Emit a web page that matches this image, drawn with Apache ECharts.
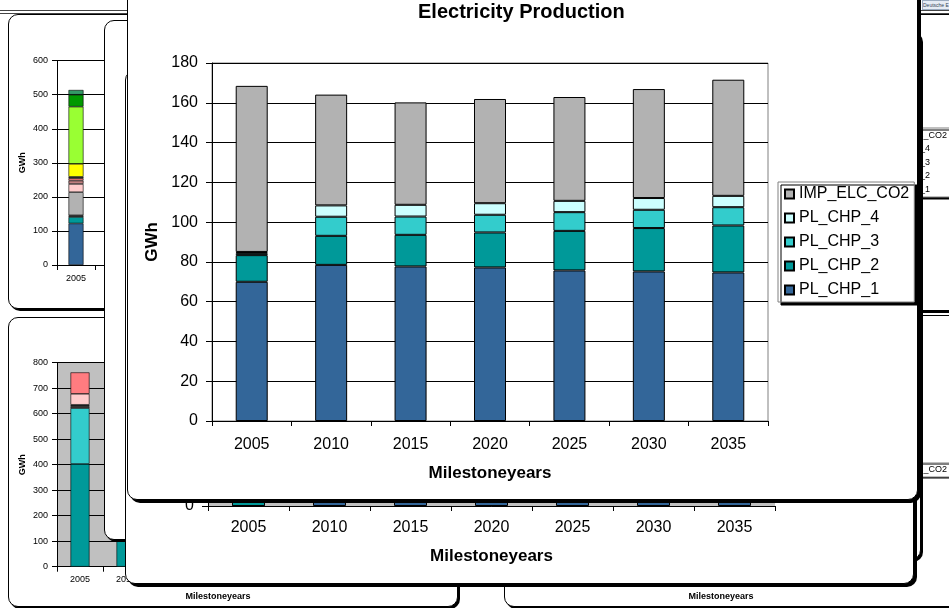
<!DOCTYPE html>
<html><head><meta charset="utf-8">
<script src="https://cdn.jsdelivr.net/npm/echarts@6/dist/echarts.min.js"></script>
<style>
html,body{margin:0;padding:0;background:#fff;}
body{position:relative;width:949px;height:608px;overflow:hidden;font-family:"Liberation Sans",Arial,sans-serif;}
.win{position:absolute;box-sizing:border-box;background:#fff;border:1px solid #000;border-radius:10px;overflow:hidden;}
.chart{position:absolute;width:949px;height:608px;}
.hl{position:absolute;left:0;width:949px;height:1px;background:#444;}
.icon{position:absolute;left:922px;top:0;width:30px;height:8px;background:#e6ecf4;border:1px solid #9aabbf;font-size:5px;line-height:8px;color:#345;overflow:hidden;white-space:nowrap;}
</style></head>
<body>
<div class="hl" style="top:10px"></div>
<div class="hl" style="top:13px"></div>
<div class="icon">Deutsche E</div>
<script>
// ---------- data ----------
const years = ['2005','2010','2015','2020','2025','2030','2035'];
const seriesNames = ['PL_CHP_1','PL_CHP_2','PL_CHP_3','PL_CHP_4','IMP_ELC_CO2'];
const PL_CHP_1    = [70.0, 78.5, 77.7, 77.2, 75.7, 75.2, 74.7];
const PL_CHP_2    = [13.4, 14.6, 15.9, 17.6, 19.9, 21.8, 23.6];
const PL_CHP_3    = [1.0,  9.6,  9.2,  8.9,  9.4,  9.2,  9.2];
const PL_CHP_4    = [0.6,  5.7,  5.9,  5.8,  5.7,  5.9,  5.7];
const IMP_ELC_CO2 = [83.5, 55.7, 51.5, 52.4, 52.2, 54.8, 58.4];
const mainYTicks  = [0, 20, 40, 60, 80, 100, 120, 140, 160, 180];

// background window (behind): only the bottom of the bars is visible
const w2Teal = [65, 0, 0, 0, 0, 0, 0];
const w2Blue = [0, 75, 75, 75, 75, 75, 75];

// top-left background chart, 2005 stack (bottom -> top)
const tlBars2005 = [122, 19, 5, 68, 24, 10, 7, 4, 38, 168, 35, 14];
const tlYTicks = [0, 100, 200, 300, 400, 500, 600];
// bottom-left background chart, 2005 stack (bottom -> top), plus visible 2010 base
const blBars2005 = [403, 219, 5, 4, 4, 43, 84];
const blBars2010 = [400];
const blYTicks = [0, 100, 200, 300, 400, 500, 600, 700, 800];

// ---------- styles ----------
const FONT = '"Liberation Sans", Arial, sans-serif';
const mainColors = ['#336699','#009999','#33CCCC','#CCFFFF','#B2B2B2'];
const tlColors = ['#336699','#009999','#1a1a1a','#B2B2B2','#FFCCCC','#C08080','#FF8080','#333333','#FFFF00','#99FF33','#009900','#339966'];
const blColors = ['#009999','#33CCCC','#996666','#FFFFFF','#333333','#FFCCCC','#FF7C80'];

function mkWin(L, T, W, H, sh) {
  const w = document.createElement('div');
  w.className = 'win';
  w.style.cssText = `left:${L}px;top:${T}px;width:${W}px;height:${H}px;box-shadow:${sh}px ${sh}px 0 #000;`;
  const c = document.createElement('div');
  c.className = 'chart';
  c.style.left = (-(L + 1)) + 'px';
  c.style.top = (-(T + 1)) + 'px';
  w.appendChild(c);
  document.body.appendChild(w);
  return c;
}

function catAxis(o) {
  return Object.assign({
    type: 'category', data: years,
    axisLine: { lineStyle: { color: '#000', width: 1 } },
    axisTick: { show: true, length: 5, lineStyle: { color: '#000' } },
    axisLabel: { color: '#000', fontFamily: FONT, fontSize: 16, margin: 16 },
    nameLocation: 'middle',
    nameTextStyle: { color: '#000', fontFamily: FONT, fontWeight: 'bold', fontSize: 17 }
  }, o);
}
function valAxis(ticks, o) {
  return Object.assign({
    type: 'value', min: ticks[0], max: ticks[ticks.length - 1], interval: ticks[1] - ticks[0],
    axisLine: { show: true, lineStyle: { color: '#000', width: 1 } },
    axisTick: { show: true, length: 6, lineStyle: { color: '#000' } },
    axisLabel: { color: '#000', fontFamily: FONT, fontSize: 16, margin: 14 },
    splitLine: { show: true, lineStyle: { color: '#000', width: 1 } },
    nameLocation: 'middle', nameRotate: 90,
    nameTextStyle: { color: '#000', fontFamily: FONT, fontWeight: 'bold', fontSize: 17 }
  }, o);
}
const barBorder = { borderColor: '#000', borderWidth: 1 };

// ---------- top-left window ----------
(function () {
  const el = mkWin(8, 14, 450, 295, 2);
  const ch = echarts.init(el, null, { renderer: 'canvas' });
  ch.setOption({
    animation: false,
    grid: { left: 57, top: 60.7, width: 266, height: 204.3 },
    xAxis: catAxis({
      axisLabel: { color: '#000', fontFamily: FONT, fontSize: 9, margin: 9 },
      name: 'Milestoneyears', nameGap: 26,
      nameTextStyle: { color: '#000', fontFamily: FONT, fontWeight: 'bold', fontSize: 9 }
    }),
    yAxis: valAxis(tlYTicks, {
      axisTick: { show: true, length: 5, lineStyle: { color: '#000' } },
      axisLabel: { color: '#000', fontFamily: FONT, fontSize: 9, margin: 9 },
      name: 'GWh', nameGap: 30,
      nameTextStyle: { color: '#000', fontFamily: FONT, fontWeight: 'bold', fontSize: 9 }
    }),
    series: tlBars2005.map((v, i) => ({
      type: 'bar', stack: 'tl', barWidth: 15, data: [v],
      itemStyle: { color: tlColors[i], borderColor: '#000', borderWidth: 0.6 }
    }))
  });
})();

// ---------- bottom-left window ----------
(function () {
  const el = mkWin(8, 317, 450, 290, 2);
  const ch = echarts.init(el);
  ch.setOption({
    animation: false,
    grid: { left: 57, top: 362.7, width: 322, height: 204, show: true, backgroundColor: '#C0C0C0', borderWidth: 0 },
    xAxis: catAxis({
      axisLabel: { color: '#000', fontFamily: FONT, fontSize: 9, margin: 8 },
      name: 'Milestoneyears', nameGap: 25,
      nameTextStyle: { color: '#000', fontFamily: FONT, fontWeight: 'bold', fontSize: 9 }
    }),
    yAxis: valAxis(blYTicks, {
      axisTick: { show: true, length: 5, lineStyle: { color: '#000' } },
      axisLabel: { color: '#000', fontFamily: FONT, fontSize: 9, margin: 9 },
      name: 'GWh', nameGap: 30,
      nameTextStyle: { color: '#000', fontFamily: FONT, fontWeight: 'bold', fontSize: 9 }
    }),
    series: blBars2005.map((v, i) => ({
      type: 'bar', stack: 'bl', barWidth: 19,
      data: i === 0 ? [v].concat(blBars2010) : [v],
      itemStyle: { color: blColors[i], borderColor: '#000', borderWidth: 0.6 }
    }))
  });
})();

// ---------- top-right window (legend fragment) ----------
(function () {
  const el = mkWin(504, 14, 520, 297, 2);
  const ch = echarts.init(el);
  ch.setOption({
    animation: false,
    legend: {
      orient: 'vertical', left: 868, top: 128, itemWidth: 7, itemHeight: 7, itemGap: 4.5, icon: 'rect',
      padding: [3, 6, 3, 4], backgroundColor: '#fff', borderColor: '#808080', borderWidth: 1,
      shadowColor: '#000', shadowOffsetX: 2, shadowOffsetY: 2, shadowBlur: 0,
      textStyle: { color: '#000', fontFamily: FONT, fontSize: 9 },
      data: seriesNames.slice().reverse()
    },
    grid: { left: 560, top: 60, width: 280, height: 205 },
    xAxis: { type: 'category', data: years, show: false },
    yAxis: { type: 'value', show: false },
    series: seriesNames.map((n, i) => ({ type: 'bar', name: n, stack: 'tr', data: [], itemStyle: Object.assign({ color: mainColors[i] }, barBorder) }))
  });
})();

// ---------- bottom-right window ----------
(function () {
  const el = mkWin(504, 315, 520, 292, 2);
  const ch = echarts.init(el);
  ch.setOption({
    animation: false,
    legend: {
      orient: 'vertical', left: 868, top: 463, itemWidth: 7, itemHeight: 7, icon: 'rect',
      padding: [2, 6, 3, 4], backgroundColor: '#fff', borderColor: '#808080', borderWidth: 1,
      shadowColor: '#000', shadowOffsetX: 1, shadowOffsetY: 1, shadowBlur: 0,
      textStyle: { color: '#000', fontFamily: FONT, fontSize: 9 },
      data: ['IMP_ELC_CO2']
    },
    grid: { left: 560, top: 363, width: 322, height: 204 },
    xAxis: catAxis({
      axisLabel: { color: '#000', fontFamily: FONT, fontSize: 9, margin: 8 },
      name: 'Milestoneyears', nameGap: 25,
      nameTextStyle: { color: '#000', fontFamily: FONT, fontWeight: 'bold', fontSize: 9 }
    }),
    yAxis: { type: 'value', show: false },
    series: [{ type: 'bar', name: 'IMP_ELC_CO2', data: [], itemStyle: Object.assign({ color: mainColors[4] }, barBorder) }]
  });
})();

// ---------- plain background windows ----------
mkWin(104, 20, 800, 520, 2);
mkWin(127, 30, 794, 530, 2);

// ---------- second window (only bottom visible) ----------
(function () {
  const el = mkWin(125, 70, 789, 514, 3);
  const ch = echarts.init(el);
  ch.setOption({
    animation: false,
    grid: { left: 208, top: 150, width: 567, height: 356, show: true, backgroundColor: '#C0C0C0', borderWidth: 0 },
    xAxis: catAxis({ axisLabel: { color: '#000', fontFamily: FONT, fontSize: 16, margin: 14 }, name: 'Milestoneyears', nameGap: 42 }),
    yAxis: valAxis(mainYTicks, {}),
    series: [
      { type: 'bar', stack: 'w2', barWidth: 33, data: w2Blue, itemStyle: Object.assign({ color: mainColors[0] }, barBorder) },
      { type: 'bar', stack: 'w2', barWidth: 33, data: w2Teal, itemStyle: Object.assign({ color: mainColors[1] }, barBorder) }
    ]
  });
})();

// ---------- main window: Electricity Production ----------
(function () {
  const el = mkWin(127, -12, 791, 512, 3);
  const ch = echarts.init(el);
  const data = [PL_CHP_1, PL_CHP_2, PL_CHP_3, PL_CHP_4, IMP_ELC_CO2];
  ch.setOption({
    animation: false,
    title: {
      text: 'Electricity Production', left: 418, top: 2, padding: 0,
      textStyle: { color: '#000', fontFamily: FONT, fontWeight: 'bold', fontSize: 20 }
    },
    legend: {
      orient: 'vertical', left: 778, top: 182, itemWidth: 9, itemHeight: 9, itemGap: 8, icon: 'rect',
      padding: [4, 5, 4, 6], backgroundColor: '#fff', borderColor: '#808080', borderWidth: 1,
      shadowColor: '#000', shadowOffsetX: 3, shadowOffsetY: 3, shadowBlur: 0,
      textStyle: { color: '#000', fontFamily: FONT, fontSize: 16 },
      data: seriesNames.slice().reverse()
    },
    grid: { left: 212, top: 63, width: 556, height: 358, show: true, backgroundColor: '#fff', borderColor: '#808080', borderWidth: 1 },
    xAxis: catAxis({ name: 'Milestoneyears', nameGap: 44 }),
    yAxis: valAxis(mainYTicks, { name: 'GWh', nameGap: 49 }),
    series: seriesNames.map((n, i) => ({
      type: 'bar', name: n, stack: 'total', barWidth: 32, data: data[i],
      itemStyle: Object.assign({ color: mainColors[i] }, barBorder)
    }))
  });
})();
</script>
</body></html>
